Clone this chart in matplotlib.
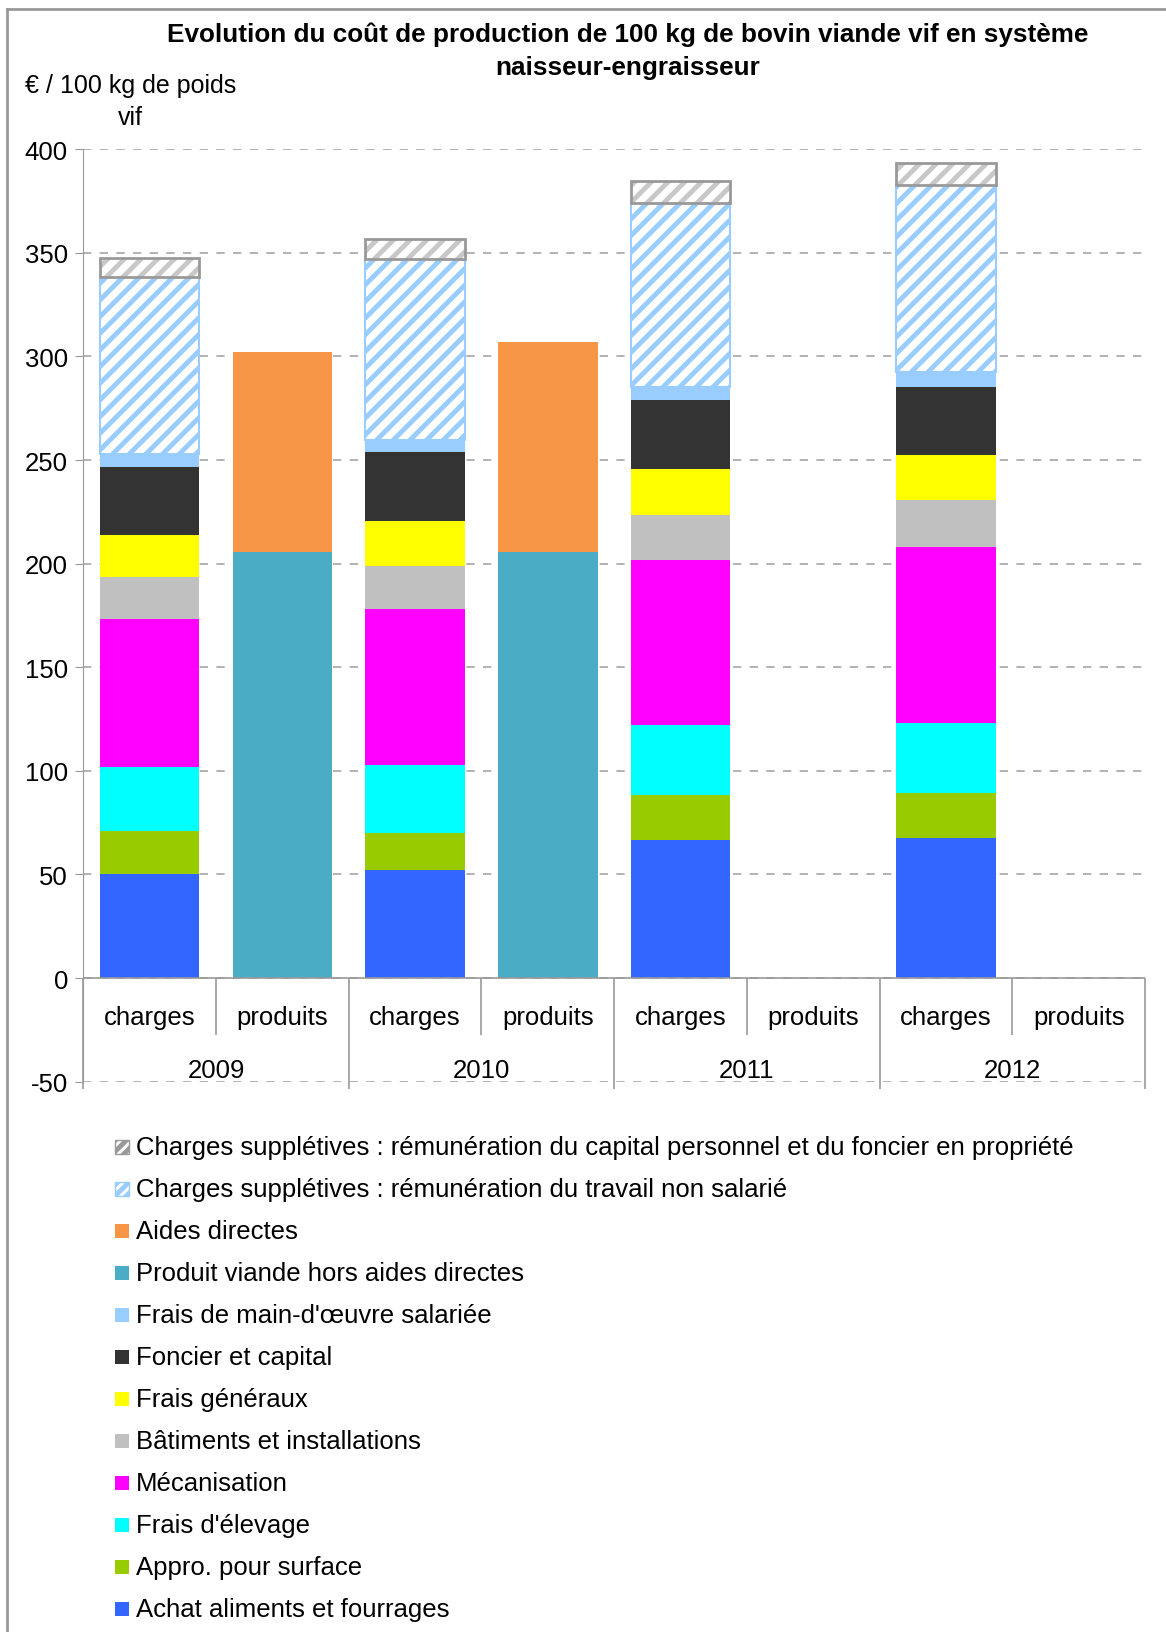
import numpy as np
import matplotlib.pyplot as plt
from matplotlib.patches import Rectangle

plt.rcParams['font.family'] = ['Liberation Sans', 'DejaVu Sans']
plt.rcParams['hatch.linewidth'] = 3.5
plt.rcParams['axes.unicode_minus'] = False

# données (€ / 100 kg vif)
annees = ['2009', '2010', '2011', '2012']
achat_aliments = [50.3, 52.3, 66.8, 67.8]
appro_surface = [20.6, 17.5, 21.6, 21.6]
frais_elevage = [31.1, 33.2, 33.6, 33.6]
mecanisation = [71.4, 74.9, 80.0, 85.0]
batiments = [20.1, 21.1, 21.6, 22.7]
frais_generaux = [20.1, 21.6, 22.1, 21.6]
foncier_capital = [33.1, 33.2, 33.2, 33.1]
mo_salariee = [6.1, 6.0, 6.5, 7.1]
travail_non_salarie = [85.4, 87.4, 88.5, 90.4]
capital_personnel = [9.5, 9.6, 11.0, 10.6]
produit_viande = [205.5, 205.5, 0, 0]
aides_directes = [96.5, 101.5, 0, 0]

couts = [
    ('Achat aliments et fourrages', achat_aliments, '#3366FF'),
    ('Appro. pour surface', appro_surface, '#99CC00'),
    ("Frais d'élevage", frais_elevage, '#00FFFF'),
    ('Mécanisation', mecanisation, '#FF00FF'),
    ('Bâtiments et installations', batiments, '#C0C0C0'),
    ('Frais généraux', frais_generaux, '#FFFF00'),
    ('Foncier et capital', foncier_capital, '#333333'),
    ("Frais de main-d'œuvre salariée", mo_salariee, '#99CCFF'),
]
lab_viande = 'Produit viande hors aides directes'
lab_aides = 'Aides directes'
lab_travail = 'Charges supplétives : rémunération du travail non salarié'
lab_capital = 'Charges supplétives : rémunération du capital personnel et du foncier en propriété'

FS = 18.5

fig = plt.figure(figsize=(11.66, 16.33), dpi=100)
ax = fig.add_axes([0.0714, 0.337, 0.9106, 0.571])

w = 0.75
x_ch = np.arange(4) * 2
x_pr = x_ch + 1

bas = np.zeros(4)
for lab, vals, col in couts:
    ax.bar(x_ch, vals, w, bottom=bas, color=col, linewidth=0, zorder=3)
    bas += np.array(vals)

# charges supplétives hachurées
ax.bar(x_ch, travail_non_salarie, w, bottom=bas, facecolor='white',
       edgecolor='#99CCFF', hatch='//', linewidth=1.5, zorder=3)
bas += np.array(travail_non_salarie)
ax.bar(x_ch, capital_personnel, w, bottom=bas, facecolor='white',
       edgecolor='#C8C8C8', hatch='//', linewidth=0, zorder=3)
ax.bar(x_ch, capital_personnel, w, bottom=bas, fill=False,
       edgecolor='#999999', linewidth=2, zorder=4)

# produits
ax.bar(x_pr[:2], produit_viande[:2], w, color='#4BACC6', linewidth=0, zorder=3)
ax.bar(x_pr[:2], aides_directes[:2], w, bottom=produit_viande[:2],
       color='#F79646', linewidth=0, zorder=3)

ax.set_xlim(-0.5, 7.5)
ax.set_ylim(-50, 400)
ax.set_yticks(np.arange(-50, 401, 50))
ax.tick_params(axis='y', labelsize=FS, length=6, color='#999999', pad=5)
ax.set_xticks([])
for s in ['top', 'right', 'bottom']:
    ax.spines[s].set_visible(False)
ax.spines['left'].set_color('#999999')
ax.yaxis.grid(True, linestyle=(0, (5, 5)), color='#A6A6A6', linewidth=1.2, zorder=0)
ax.axhline(0, color='#999999', linewidth=1.2, zorder=5)

# étiquettes de catégories
for i, an in enumerate(annees):
    ax.text(x_ch[i], -19, 'charges', ha='center', va='center', fontsize=FS)
    ax.text(x_pr[i], -19, 'produits', ha='center', va='center', fontsize=FS)
    ax.text(x_ch[i] + 0.5, -44.5, an, ha='center', va='center', fontsize=FS)
    ax.vlines(x_ch[i] + 0.5, -27.5, 0, color='#999999', linewidth=1.2, zorder=5)
for xs in np.arange(-0.5, 8, 2):
    ax.vlines(xs, -53.5, 0, color='#999999', linewidth=1.2, zorder=5, clip_on=False)

fig.text(0.538, 0.9685, 'Evolution du coût de production de 100 kg de bovin viande vif en système\n'
         'naisseur-engraisseur', ha='center', va='center', fontsize=FS + 0.3,
         fontweight='bold', linespacing=1.45)
fig.text(0.1116, 0.9375, '€ / 100 kg de poids\nvif', ha='center', va='center',
         fontsize=FS - 0.5, linespacing=1.42)

# légende
entrees = [
    (lab_capital, dict(facecolor='white', edgecolor='#999999', hatch='///')),
    (lab_travail, dict(facecolor='white', edgecolor='#99CCFF', hatch='///')),
    (lab_aides, dict(facecolor='#F79646', edgecolor='none')),
    (lab_viande, dict(facecolor='#4BACC6', edgecolor='none')),
] + [(lab, dict(facecolor=col, edgecolor='none')) for lab, vals, col in couts[::-1]]

W, H = 1166, 1633
y0 = 1148
for k, (lab, st) in enumerate(entrees):
    yc = y0 + k * 42
    fig.patches.append(Rectangle((115 / W, 1 - (yc + 7) / H), 14 / W, 14 / H,
                                 transform=fig.transFigure, linewidth=1, **st))
    fig.text(136 / W, 1 - yc / H, lab, ha='left', va='center', fontsize=FS)

# cadre
fig.add_artist(plt.Line2D([7 / W, 7 / W], [0, 1 - 10 / H], transform=fig.transFigure,
                          color='#999999', linewidth=2))
fig.add_artist(plt.Line2D([7 / W, 1], [1 - 10 / H, 1 - 10 / H], transform=fig.transFigure,
                          color='#999999', linewidth=2))

fig.savefig('out.png', dpi=100)
